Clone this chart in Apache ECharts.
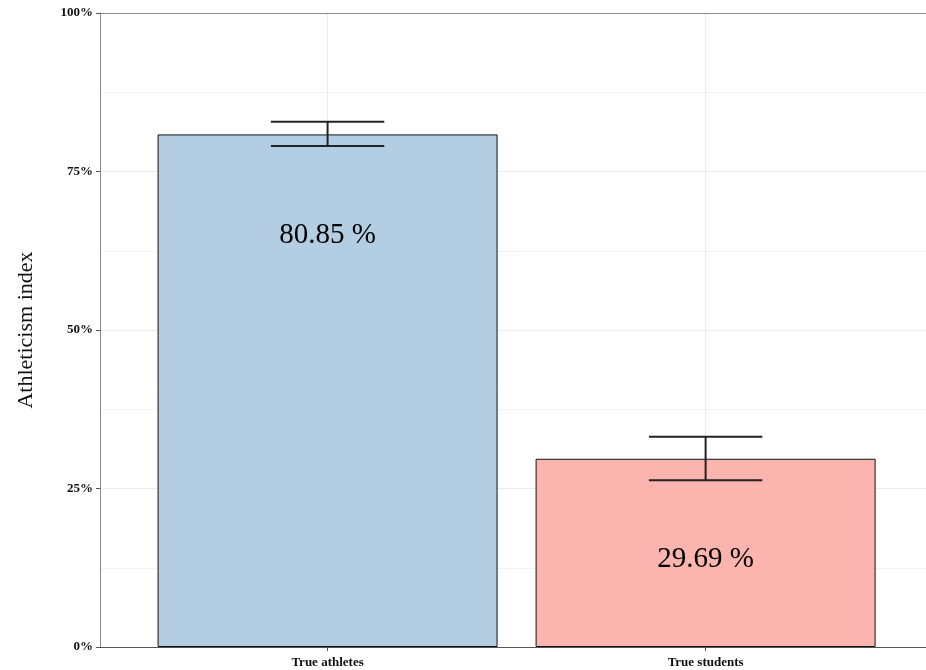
<!DOCTYPE html>
<html>
<head>
<meta charset="utf-8">
<script src="https://cdn.jsdelivr.net/npm/echarts@6/dist/echarts.min.js"></script>
<style>
  html, body { margin: 0; padding: 0; background: #fff; }
  #main { width: 926px; height: 670px; }
</style>
</head>
<body>
<div id="main"></div>
<script>
// data
let categories = ['True athletes', 'True students'];
let means = [80.85, 29.69];
let errLow = [79.02, 26.29];
let errHigh = [82.85, 33.17];
let barColors = ['#b3cde3', '#fbb4ae'];
let yTicks = [0, 25, 50, 75, 100];

let serif = '"Liberation Serif", "DejaVu Serif", serif';

let barData = means.map((v, i) => ({
    value: [i + 1, v],
    itemStyle: { color: barColors[i] }
}));
let errData = means.map((v, i) => [i + 1, errLow[i], errHigh[i]]);

let myChart = echarts.init(document.getElementById('main'));
let option = {
    animation: false,
    grid: { left: 100, right: 0, top: 13, bottom: 23 },
    xAxis: [
        {
            type: 'value',
            min: 0.398,
            max: 2.583,
            axisLine: { show: true, lineStyle: { color: '#555', width: 1 } },
            axisTick: { show: true, customValues: [1, 2], length: 4, lineStyle: { color: '#555' } },
            axisLabel: {
                customValues: [1, 2],
                formatter: v => categories[Math.round(v) - 1] || '',
                fontFamily: serif, fontWeight: 'bold', fontSize: 13, color: '#111', margin: 9
            },
            splitLine: { show: true, lineStyle: { color: '#ebebeb', width: 1 } }
        },
        {
            type: 'value',
            position: 'top',
            min: 0.398,
            max: 2.583,
            axisLine: { show: true, onZero: false, lineStyle: { color: '#888', width: 1 } },
            axisTick: { show: false },
            axisLabel: { show: false },
            splitLine: { show: false }
        }
    ],
    yAxis: {
        type: 'value',
        min: yTicks[0],
        max: yTicks[yTicks.length - 1],
        interval: 25,
        name: 'Athleticism index',
        nameLocation: 'middle',
        nameGap: 63,
        nameTextStyle: { fontFamily: serif, fontSize: 22, color: '#111' },
        axisLine: { show: true, lineStyle: { color: '#888', width: 1 } },
        axisTick: { show: true, length: 4, lineStyle: { color: '#555' } },
        axisLabel: {
            formatter: v => v + '%',
            fontFamily: serif, fontWeight: 'bold', fontSize: 13, color: '#111', margin: 7
        },
        splitLine: { show: true, lineStyle: { color: '#ebebeb', width: 1 } },
        minorTick: { show: false, splitNumber: 2 },
        minorSplitLine: { show: true, lineStyle: { color: '#f3f3f3', width: 1 } }
    },
    series: [
        {
            type: 'bar',
            data: barData,
            barWidth: 340,
            itemStyle: { borderColor: '#111', borderWidth: 1 },
            label: {
                show: true,
                position: 'insideTop',
                distance: 86,
                formatter: p => p.value[1].toFixed(2) + ' %',
                fontFamily: serif, fontSize: 29, color: '#000'
            },
            z: 2
        },
        {
            type: 'custom',
            data: errData,
            z: 3,
            renderItem: function (params, api) {
                let x = api.value(0);
                let lo = api.coord([x, api.value(1)]);
                let hi = api.coord([x, api.value(2)]);
                let half = api.size([0.3, 0])[0] / 2;
                let style = { stroke: '#222', lineWidth: 2 };
                return {
                    type: 'group',
                    children: [
                        { type: 'line', shape: { x1: lo[0], y1: lo[1], x2: hi[0], y2: hi[1] }, style: style },
                        { type: 'line', shape: { x1: lo[0] - half, y1: lo[1], x2: lo[0] + half, y2: lo[1] }, style: style },
                        { type: 'line', shape: { x1: hi[0] - half, y1: hi[1], x2: hi[0] + half, y2: hi[1] }, style: style }
                    ]
                };
            }
        }
    ]
};
myChart.setOption(option);
</script>
</body>
</html>
